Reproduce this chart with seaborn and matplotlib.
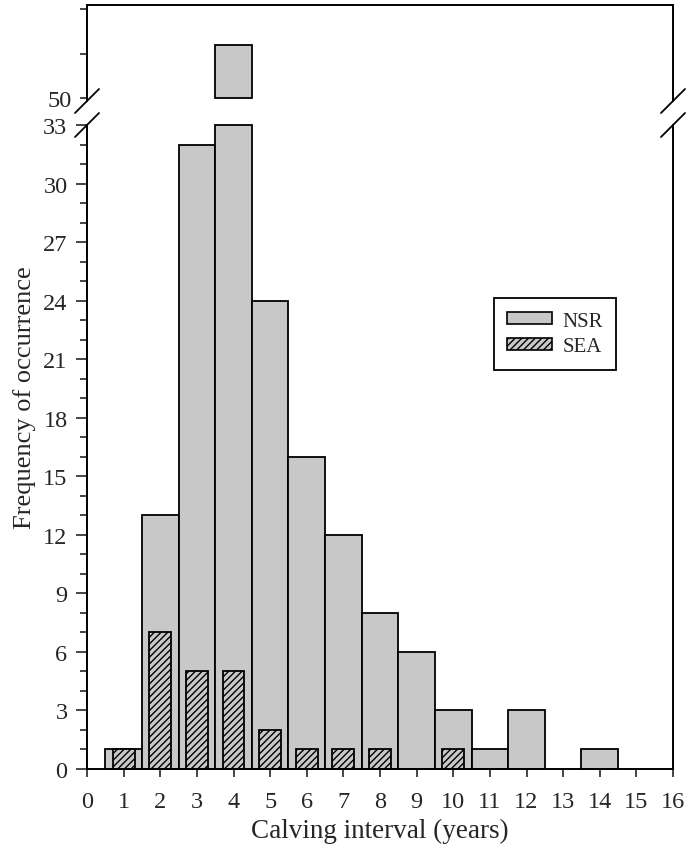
import numpy as np
import matplotlib
matplotlib.use('Agg')
import matplotlib.pyplot as plt
import seaborn as sns
from matplotlib.lines import Line2D
from matplotlib.patches import Patch

# Datos
intervalos_nsr = [1, 2, 3, 4, 5, 6, 7, 8, 9, 10, 11, 12, 14]
frec_nsr = [1, 13, 32, 52.4, 24, 16, 12, 8, 6, 3, 1, 3, 1]
intervalos_sea = [1, 2, 3, 4, 5, 6, 7, 8, 10]
frec_sea = [1, 7, 5, 5, 2, 1, 1, 1, 1]

gris = '#c8c8c8'
corte_inf, corte_sup = 33, 50

sns.set_style('white')
plt.rcParams['font.family'] = ['Liberation Serif', 'DejaVu Serif']
plt.rcParams['hatch.linewidth'] = 1.0

fig = plt.figure(figsize=(6.93, 8.53), dpi=100)
W, H = 693, 853
izq, der = 87, 673
ax_top = fig.add_axes([izq / W, (H - 102) / H, (der - izq) / W, 96 / H])
ax = fig.add_axes([izq / W, (H - 770) / H, (der - izq) / W, 644 / H])


def dibujar(a):
    sns.barplot(x=intervalos_nsr, y=frec_nsr, native_scale=True, width=1,
                color=gris, saturation=1, edgecolor='black', linewidth=1.3, ax=a)
    n = len(a.patches)
    sns.barplot(x=intervalos_sea, y=frec_sea, native_scale=True, width=0.6,
                color=gris, saturation=1, edgecolor='black', linewidth=1.3, ax=a)
    for p in a.patches[n:]:
        p.set_hatch('/////')


dibujar(ax)
# recortar las barras en el corte para que se vea el borde
for p in ax.patches:
    if p.get_height() > corte_inf:
        p.set_height(corte_inf)
    p.set_clip_on(False)

dibujar(ax_top)
for p in ax_top.patches:
    h = p.get_height()
    if h > corte_sup:
        p.set_y(corte_sup)
        p.set_height(h - corte_sup)
    else:
        p.set_visible(False)

# panel inferior
ax.set_xlim(0, 16)
ax.set_ylim(0, 33)
ax.set_xticks(range(0, 17))
ax.set_yticks(range(0, 34, 3))
ax.set_yticks(range(0, 34), minor=True)
ax.tick_params(axis='x', which='major', direction='out', length=6, width=1.2,
               labelsize=17.5, bottom=True, pad=10)
ax.tick_params(axis='y', which='major', direction='out', length=8, width=1.2,
               labelsize=17.5, left=True, pad=6)
ax.tick_params(axis='y', which='minor', direction='out', length=5, width=1.2, left=True)
ax.spines['top'].set_visible(False)
for s in ['left', 'right', 'bottom']:
    ax.spines[s].set_linewidth(1.4)
    ax.spines[s].set_color('black')
ax.set_xlabel('Calving interval (years)', fontsize=19.5, labelpad=4)
ax.set_ylabel('')

# panel superior
ax_top.set_xlim(0, 16)
ax_top.set_ylim(49.85, 54.2)
ax_top.set_yticks([50, 52, 54])
ax_top.set_yticklabels(['50', '', ''])
ax_top.set_xticks([])
ax_top.tick_params(axis='y', direction='out', length=5, width=1.2, labelsize=17.5,
                   left=True, pad=6)
ax_top.spines['bottom'].set_visible(False)
for s in ['left', 'right', 'top']:
    ax_top.spines[s].set_linewidth(1.4)
    ax_top.spines[s].set_color('black')
ax_top.set_xlabel('')
ax_top.set_ylabel('')

# marcas de corte
dx, dy = 12 / W, 12 / H
for xs in [izq / W, der / W]:
    for ys in [(H - 102) / H, (H - 126) / H]:
        fig.add_artist(Line2D([xs - dx, xs + dx], [ys - dy, ys + dy],
                              transform=fig.transFigure, color='black', lw=1.3))

fig.text(25 / W, (H - 398) / H, 'Frequency of occurrence', rotation=90,
         ha='center', va='center', fontsize=19)

# leyenda
handles = [Patch(facecolor=gris, edgecolor='black', linewidth=1.2, label='NSR'),
           Patch(facecolor=gris, edgecolor='black', linewidth=1.2, hatch='/////', label='SEA')]
leg = ax.legend(handles=handles, loc='upper left', bbox_to_anchor=(0.694, 0.731),
                fontsize=15, frameon=True, fancybox=False, edgecolor='black',
                framealpha=1, handlelength=2.15, handleheight=0.5, borderpad=0.65,
                labelspacing=0.3, handletextpad=0.5, borderaxespad=0)
leg.get_frame().set_linewidth(1.3)

fig.savefig('out.png', dpi=100)
